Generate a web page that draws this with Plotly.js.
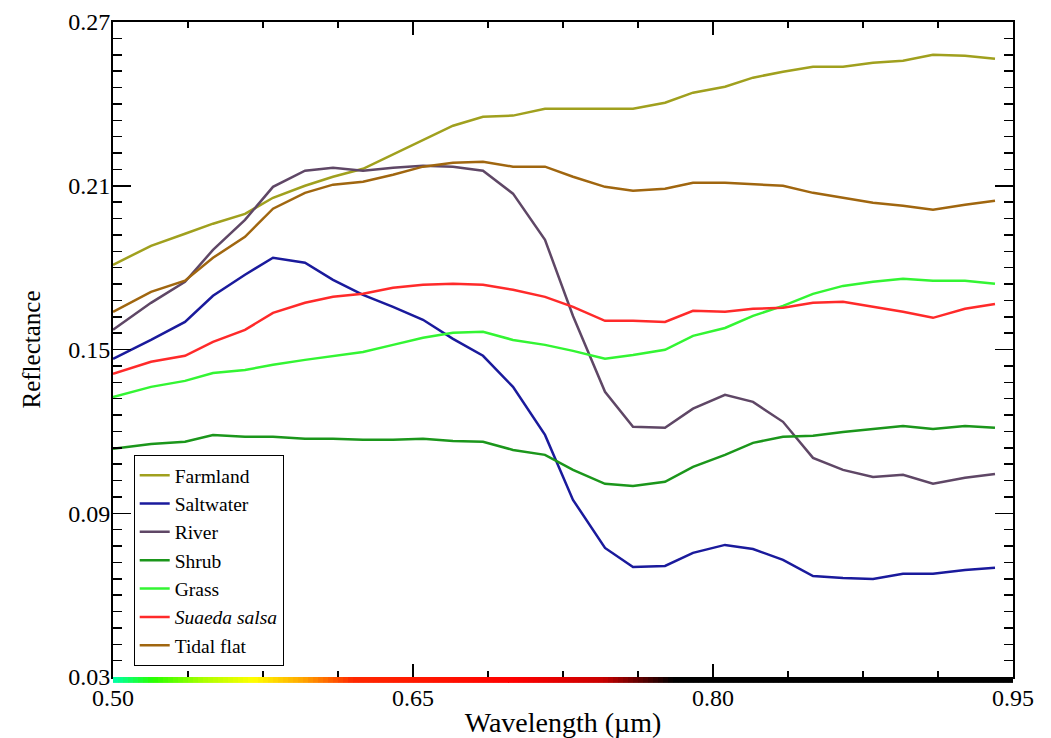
<!DOCTYPE html>
<html>
<head>
<meta charset="utf-8">
<script src="https://cdn.plot.ly/plotly-3.0.1.min.js"></script>
<style>
  html, body { margin: 0; padding: 0; background: #ffffff; }
  #chart { width: 1051px; height: 738px; }
</style>
</head>
<body>
<div id="chart"></div>
<script>
// Wavelength samples (µm)
const wavelength = [0.500, 0.519, 0.536, 0.550, 0.566, 0.580, 0.596, 0.610, 0.625, 0.640,
                    0.655, 0.670, 0.685, 0.700, 0.716, 0.730, 0.746, 0.760, 0.776, 0.790,
                    0.806, 0.820, 0.835, 0.850, 0.865, 0.880, 0.895, 0.910, 0.926, 0.941];

const farmland = [0.1810, 0.1880, 0.1924, 0.1961, 0.1997, 0.2056, 0.2100, 0.2133, 0.2162, 0.2214,
                  0.2269, 0.2320, 0.2353, 0.2357, 0.2382, 0.2382, 0.2382, 0.2382, 0.2404, 0.2441,
                  0.2463, 0.2496, 0.2518, 0.2536, 0.2536, 0.2551, 0.2558, 0.2580, 0.2576, 0.2565];

const saltwater = [0.1466, 0.1535, 0.1601, 0.1697, 0.1774, 0.1836, 0.1818, 0.1755, 0.1700, 0.1656,
                   0.1609, 0.1539, 0.1477, 0.1363, 0.1187, 0.0949, 0.0773, 0.0703, 0.0707, 0.0755,
                   0.0784, 0.0769, 0.0729, 0.0670, 0.0663, 0.0659, 0.0678, 0.0678, 0.0692, 0.0700];

const river = [0.1572, 0.1671, 0.1748, 0.1865, 0.1975, 0.2096, 0.2155, 0.2166, 0.2155, 0.2166,
               0.2173, 0.2170, 0.2155, 0.2071, 0.1902, 0.1623, 0.1345, 0.1217, 0.1213, 0.1283,
               0.1334, 0.1308, 0.1235, 0.1103, 0.1059, 0.1033, 0.1041, 0.1008, 0.1030, 0.1044];

const shrub = [0.1136, 0.1154, 0.1162, 0.1187, 0.1180, 0.1180, 0.1173, 0.1173, 0.1169, 0.1169,
               0.1173, 0.1165, 0.1162, 0.1132, 0.1114, 0.1059, 0.1008, 0.1000, 0.1015, 0.1070,
               0.1114, 0.1158, 0.1180, 0.1184, 0.1198, 0.1209, 0.1220, 0.1209, 0.1220, 0.1213];

const grass = [0.1326, 0.1363, 0.1385, 0.1414, 0.1425, 0.1444, 0.1462, 0.1477, 0.1491, 0.1517,
               0.1543, 0.1561, 0.1565, 0.1535, 0.1517, 0.1495, 0.1466, 0.1480, 0.1499, 0.1550,
               0.1579, 0.1623, 0.1660, 0.1704, 0.1733, 0.1748, 0.1759, 0.1752, 0.1752, 0.1741];

const suaeda = [0.1411, 0.1455, 0.1477, 0.1528, 0.1572, 0.1634, 0.1671, 0.1693, 0.1704, 0.1726,
                0.1737, 0.1741, 0.1737, 0.1719, 0.1693, 0.1656, 0.1605, 0.1605, 0.1601, 0.1642,
                0.1638, 0.1649, 0.1653, 0.1671, 0.1675, 0.1656, 0.1638, 0.1616, 0.1649, 0.1667];

const tidalFlat = [0.1638, 0.1711, 0.1752, 0.1836, 0.1913, 0.2016, 0.2074, 0.2104, 0.2115, 0.2140,
                   0.2170, 0.2184, 0.2188, 0.2170, 0.2170, 0.2133, 0.2096, 0.2082, 0.2089, 0.2111,
                   0.2111, 0.2107, 0.2100, 0.2074, 0.2056, 0.2038, 0.2027, 0.2012, 0.2030, 0.2045];

const seriesNames = ['Farmland', 'Saltwater', 'River', 'Shrub', 'Grass', '<i>Suaeda salsa</i>', 'Tidal flat'];
const seriesValues = [farmland, saltwater, river, shrub, grass, suaeda, tidalFlat];
const seriesColors = ['#a0a01e', '#1a1a9c', '#5f4766', '#1b961b', '#33f533', '#ff2a2a', '#a0660f'];

const traces = seriesNames.map((name, i) => ({
  x: wavelength,
  y: seriesValues[i],
  name: name,
  type: 'scatter',
  mode: 'lines',
  line: { color: seriesColors[i], width: 2.5 }
}));

// Spectrum colour strip along the x axis (decoration)
const spectrumStops = [
  [0.500, [0, 255, 170]], [0.520, [40, 255, 0]], [0.545, [170, 255, 0]],
  [0.570, [255, 255, 0]], [0.595, [255, 165, 0]], [0.620, [255, 40, 0]],
  [0.700, [255, 0, 0]], [0.745, [200, 0, 0]], [0.780, [0, 0, 0]], [0.950, [0, 0, 0]]
];
function spectrumColor(w) {
  for (let k = 0; k < spectrumStops.length - 1; k++) {
    const a = spectrumStops[k], b = spectrumStops[k + 1];
    if (w >= a[0] && w <= b[0]) {
      const t = (w - a[0]) / (b[0] - a[0]);
      const c = a[1].map((v, j) => Math.round(v + (b[1][j] - v) * t));
      return 'rgb(' + c.join(',') + ')';
    }
  }
  return 'rgb(0,0,0)';
}
const shapes = [];
const step = 0.0025;
for (let w = 0.5; w < 0.95 - 1e-9; w += step) {
  shapes.push({
    type: 'rect', xref: 'x', yref: 'paper',
    x0: w, x1: Math.min(w + step * 1.05, 0.95), y0: -0.009, y1: 0,
    fillcolor: spectrumColor(w + step / 2), line: { width: 0 }, layer: 'above'
  });
}

const fontFamily = '"Liberation Serif", "Times New Roman", serif';

const layout = {
  width: 1051,
  height: 738,
  margin: { l: 113, r: 38, t: 22, b: 61 },
  paper_bgcolor: '#ffffff',
  plot_bgcolor: '#ffffff',
  font: { family: fontFamily, color: '#000000', size: 22 },
  showlegend: true,
  legend: {
    x: 0.023, y: 0.339, xanchor: 'left', yanchor: 'top',
    bgcolor: '#ffffff', bordercolor: '#000000', borderwidth: 1,
    font: { family: fontFamily, size: 19.5, color: '#000000' },
    tracegroupgap: 0
  },
  xaxis: {
    range: [0.5, 0.95],
    tick0: 0.5, dtick: 0.15, tickformat: '.2f',
    ticks: 'inside', ticklen: 13, tickwidth: 1.5, tickcolor: '#000000',
    minor: { dtick: 0.0375, tick0: 0.5, ticks: 'inside', ticklen: 6, tickwidth: 1.5, tickcolor: '#000000', showgrid: false },
    showline: true, linecolor: '#000000', linewidth: 2, mirror: 'ticks',
    showgrid: false, zeroline: false,
    tickfont: { family: fontFamily, size: 24, color: '#000000' },
    ticklabelstandoff: -2,
    title: { text: 'Wavelength (µm)', font: { family: fontFamily, size: 28, color: '#000000' }, standoff: 6 }
  },
  yaxis: {
    range: [0.03, 0.27],
    tick0: 0.03, dtick: 0.06, tickformat: '.2f',
    ticks: 'inside', ticklen: 18, tickwidth: 1.5, tickcolor: '#000000',
    minor: { dtick: 0.006, tick0: 0.03, ticks: 'inside', ticklen: 9, tickwidth: 1.5, tickcolor: '#000000', showgrid: false },
    showline: true, linecolor: '#000000', linewidth: 2, mirror: 'ticks',
    showgrid: false, zeroline: false,
    tickfont: { family: fontFamily, size: 24, color: '#000000' },
    ticklabelstandoff: -4,
    title: { text: 'Reflectance', font: { family: fontFamily, size: 25, color: '#000000' }, standoff: 20 }
  },
  shapes: shapes
};

Plotly.newPlot('chart', traces, layout, { displayModeBar: false, staticPlot: true });
</script>
</body>
</html>
